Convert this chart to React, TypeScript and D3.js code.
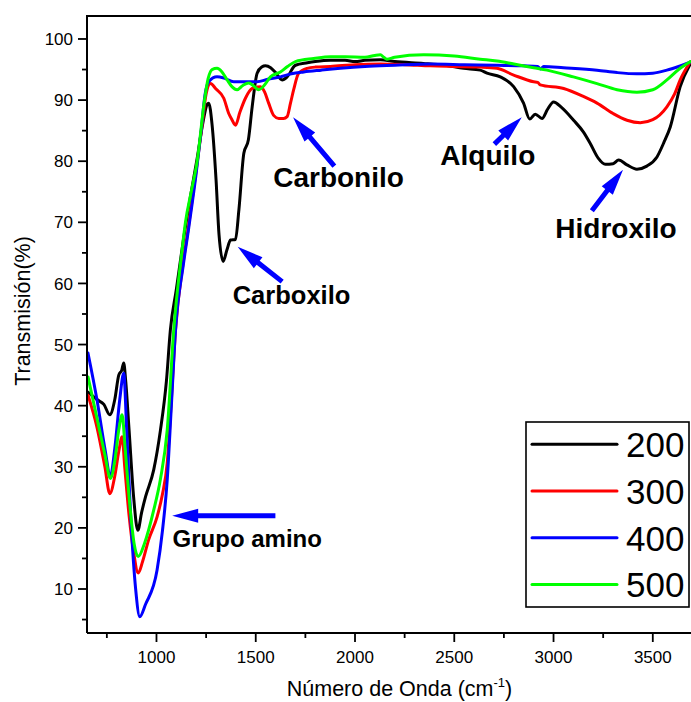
import React from 'react';
import * as d3 from 'd3';

const WIDTH = 691;
const HEIGHT = 702;

// FTIR transmission spectra, one per treatment temperature
const seriesLabels = ['200', '300', '400', '500'];
const seriesColors = ['#000000', '#ff0000', '#0000ff', '#00ff00'];

// [wavenumber (cm-1), transmission (%)]
const spectrum200: [number, number][] = [
  [655, 42.2], [700, 41.0], [735, 40.2], [765, 38.5], [790, 41.0], [810, 45.0], [825, 45.8],
  [835, 47.0], [845, 44.0], [862, 36.0], [885, 25.0], [906, 19.6], [925, 22.5], [945, 25.1],
  [986, 29.5], [1020, 36.0], [1050, 44.0], [1070, 52.4], [1100, 59.0], [1135, 67.0], [1170, 74.0],
  [1205, 80.5], [1235, 86.5], [1255, 89.3], [1263, 89.5], [1280, 86.0], [1300, 77.0], [1315, 68.0],
  [1336, 63.6], [1355, 65.5], [1373, 67.1], [1398, 67.2], [1415, 72.0], [1440, 81.3], [1463, 83.5],
  [1482, 88.9], [1507, 94.4], [1530, 95.4], [1549, 95.6], [1575, 95.3], [1600, 94.5], [1633, 93.3],
  [1658, 93.8], [1700, 95.7], [1760, 96.1], [1800, 96.3], [1876, 96.5], [1950, 96.5], [2000, 96.3],
  [2050, 96.5], [2128, 96.6], [2200, 96.3], [2344, 96.0], [2450, 95.7], [2547, 95.2], [2631, 94.9],
  [2665, 94.4], [2732, 93.8], [2799, 92.2], [2849, 89.5], [2880, 86.9], [2908, 87.7], [2942, 87.0],
  [2970, 88.5], [3000, 89.7], [3040, 88.8], [3101, 86.7], [3150, 84.8], [3185, 82.9], [3225, 80.5],
  [3261, 79.5], [3300, 79.6], [3328, 80.2], [3370, 79.4], [3420, 78.7], [3470, 79.2], [3521, 80.7],
  [3555, 83.0], [3588, 85.6], [3638, 92.2], [3690, 96.0],
];

const spectrum300: [number, number][] = [
  [655, 41.7], [700, 36.5], [740, 30.0], [765, 25.6], [790, 28.5], [810, 32.5], [827, 34.9],
  [840, 30.0], [862, 22.0], [885, 16.0], [908, 12.6], [930, 14.5], [960, 18.0], [1003, 21.8],
  [1030, 25.5], [1054, 30.6], [1075, 41.0], [1096, 52.4], [1135, 63.5], [1160, 69.0], [1200, 78.5],
  [1230, 86.0], [1250, 91.0], [1272, 92.7], [1300, 91.8], [1339, 90.3], [1364, 87.8], [1380, 86.8],
  [1398, 85.9], [1420, 88.0], [1448, 90.3], [1482, 91.9], [1524, 92.2], [1545, 91.3], [1565, 89.5],
  [1590, 87.5], [1616, 87.0], [1640, 87.0], [1658, 87.3], [1675, 89.5], [1691, 91.7], [1716, 94.4],
  [1759, 95.2], [1800, 95.4], [1876, 95.5], [2000, 95.8], [2128, 95.9], [2250, 95.8], [2380, 95.6],
  [2500, 95.5], [2631, 95.4], [2715, 95.2], [2799, 94.1], [2900, 93.0], [2920, 92.9], [2933, 92.5],
  [3051, 91.9], [3150, 90.6], [3219, 89.5], [3300, 87.8], [3370, 86.7], [3437, 86.3], [3500, 86.8],
  [3571, 88.9], [3610, 91.0], [3638, 93.3], [3690, 96.3],
];

const spectrum400: [number, number][] = [
  [655, 48.6], [700, 41.0], [740, 33.0], [768, 28.5], [790, 33.0], [815, 41.0], [835, 45.3],
  [850, 36.0], [870, 22.0], [895, 10.0], [916, 5.45], [945, 7.5], [1003, 13.1], [1030, 19.5],
  [1054, 27.8], [1075, 40.0], [1096, 52.4], [1135, 63.0], [1162, 69.0], [1200, 78.0], [1225, 85.0],
  [1245, 91.0], [1263, 93.0], [1305, 93.8], [1340, 93.6], [1389, 93.0], [1450, 93.0], [1507, 93.0],
  [1560, 93.4], [1624, 93.8], [1680, 94.3], [1742, 94.6], [1830, 94.9], [1926, 95.2], [2050, 95.5],
  [2200, 95.7], [2380, 95.9], [2550, 95.8], [2715, 95.7], [2850, 95.6], [2920, 95.5], [2935, 95.1],
  [2950, 95.5], [3050, 95.3], [3219, 94.9], [3320, 94.5], [3420, 94.3], [3500, 94.4], [3571, 94.9],
  [3630, 95.5], [3690, 96.2],
];

const spectrum500: [number, number][] = [
  [655, 44.7], [700, 38.0], [740, 32.0], [768, 28.1], [790, 31.0], [810, 36.0], [827, 38.5],
  [842, 33.0], [865, 24.0], [887, 17.5], [908, 15.3], [940, 17.5], [986, 22.9], [1020, 28.0],
  [1054, 36.0], [1087, 52.4], [1129, 65.5], [1146, 70.0], [1175, 75.0], [1205, 80.0], [1242, 90.0],
  [1260, 93.5], [1280, 95.0], [1305, 95.2], [1330, 94.6], [1356, 93.3], [1380, 92.2], [1406, 91.7],
  [1435, 92.4], [1465, 92.8], [1490, 92.3], [1515, 91.7], [1545, 92.5], [1574, 93.8], [1624, 94.6],
  [1660, 95.5], [1700, 96.3], [1792, 96.8], [1876, 97.1], [1950, 97.1], [2050, 97.0], [2100, 97.3],
  [2128, 97.4], [2145, 97.0], [2161, 96.7], [2200, 97.0], [2346, 97.4], [2500, 97.2], [2631, 96.7],
  [2715, 96.4], [2800, 95.9], [2900, 95.3], [2967, 94.9], [3100, 93.8], [3219, 92.7], [3320, 91.7],
  [3420, 91.3], [3500, 91.7], [3571, 93.3], [3630, 95.0], [3690, 96.3],
];

const spectra = [spectrum200, spectrum300, spectrum400, spectrum500];

const xTicks = [1000, 1500, 2000, 2500, 3000, 3500];
const xMinorTicks = [750, 1250, 1750, 2250, 2750, 3250];
const yTicks = [10, 20, 30, 40, 50, 60, 70, 80, 90, 100];
const yMinorTicks = [5, 15, 25, 35, 45, 55, 65, 75, 85, 95];

const annotationLabels = ['Grupo amino', 'Carboxilo', 'Carbonilo', 'Alquilo', 'Hidroxilo'];

// Annotation placement in data units: arrow tail, arrow tip, text start; font size in px
const annotationLayout = [
  { tail: [1599, 22.0], tip: [1079, 22.0], text: [1081, 16.9], size: 24 },
  { tail: [1633, 60.3], tip: [1409, 66.0], text: [1384, 56.7], size: 25.5 },
  { tail: [1896, 79.2], tip: [1688, 87.2], text: [1588, 75.7], size: 28 },
  { tail: [2702, 82.8], tip: [2840, 87.2], text: [2430, 79.3], size: 28 },
  { tail: [3193, 71.9], tip: [3350, 78.6], text: [3009, 67.5], size: 28 },
];

const FONT = '"Liberation Sans", Arial, Helvetica, sans-serif';

const plot = { left: 87, right: 692.5, top: 16, bottom: 633 };

function arrowPath(x1: number, y1: number, x2: number, y2: number) {
  const shaft = 5;
  const headLen = 26;
  const headW = 14;
  const dx = x2 - x1;
  const dy = y2 - y1;
  const len = Math.hypot(dx, dy);
  const ux = dx / len;
  const uy = dy / len;
  const nx = -uy;
  const ny = ux;
  const bx = x2 - ux * headLen;
  const by = y2 - uy * headLen;
  const pts = [
    [x1 + nx * shaft / 2, y1 + ny * shaft / 2],
    [bx + nx * shaft / 2, by + ny * shaft / 2],
    [bx + nx * headW / 2, by + ny * headW / 2],
    [x2, y2],
    [bx - nx * headW / 2, by - ny * headW / 2],
    [bx - nx * shaft / 2, by - ny * shaft / 2],
    [x1 - nx * shaft / 2, y1 - ny * shaft / 2],
  ];
  return 'M' + pts.map((p) => p[0].toFixed(2) + ',' + p[1].toFixed(2)).join('L') + 'Z';
}

export default function App() {
  const x = d3.scaleLinear().domain([650, 3700]).range([plot.left, plot.right]);
  const y = d3.scaleLinear().domain([2.8, 103.76]).range([plot.bottom, plot.top]);

  const line = d3
    .line<[number, number]>()
    .x((d) => x(d[0]))
    .y((d) => y(d[1]))
    .curve(d3.curveMonotoneX);

  const legend = { x: 526, y: 422, w: 163, h: 185, rowStart: 444.3, rowGap: 46.7 };

  return (
    <svg
      width={WIDTH}
      height={HEIGHT}
      viewBox={`0 0 ${WIDTH} ${HEIGHT}`}
      style={{ position: 'absolute', left: 0, top: 0, background: '#fff' }}
      fontFamily={FONT}
    >
      <rect x={0} y={0} width={WIDTH} height={HEIGHT} fill="#fff" />
      <defs>
        <clipPath id="plot-clip">
          <rect x={plot.left} y={plot.top} width={plot.right - plot.left} height={plot.bottom - plot.top} />
        </clipPath>
      </defs>

      {/* spectra */}
      <g clipPath="url(#plot-clip)">
        {spectra.map((s, i) => (
          <path
            key={seriesLabels[i]}
            d={line(s) || ''}
            fill="none"
            stroke={seriesColors[i]}
            strokeWidth={3}
            strokeLinejoin="round"
            strokeLinecap="round"
          />
        ))}
      </g>

      {/* frame */}
      <path
        d={`M${plot.left},${plot.bottom}V${plot.top}H${plot.right}`}
        fill="none"
        stroke="#000"
        strokeWidth={2}
      />
      <line x1={plot.left} x2={plot.right} y1={plot.bottom} y2={plot.bottom} stroke="#000" strokeWidth={2} />

      {/* x axis ticks */}
      {xTicks.map((t) => (
        <g key={'xt' + t}>
          <line x1={x(t)} x2={x(t)} y1={plot.bottom} y2={plot.bottom + 9} stroke="#000" strokeWidth={1.8} />
          <text x={x(t)} y={663} textAnchor="middle" fontSize={17} fill="#000">
            {t}
          </text>
        </g>
      ))}
      {xMinorTicks.map((t) => (
        <line key={'xm' + t} x1={x(t)} x2={x(t)} y1={plot.bottom} y2={plot.bottom + 5} stroke="#000" strokeWidth={1.8} />
      ))}

      {/* y axis ticks */}
      {yTicks.map((t) => (
        <g key={'yt' + t}>
          <line x1={plot.left - 9} x2={plot.left} y1={y(t)} y2={y(t)} stroke="#000" strokeWidth={1.8} />
          <text x={73} y={y(t)} dy="0.36em" textAnchor="end" fontSize={17} fill="#000">
            {t}
          </text>
        </g>
      ))}
      {yMinorTicks.map((t) => (
        <line key={'ym' + t} x1={plot.left - 5} x2={plot.left} y1={y(t)} y2={y(t)} stroke="#000" strokeWidth={1.8} />
      ))}

      {/* axis titles */}
      <text x={399.5} y={696} textAnchor="middle" fontSize={21.5} fill="#000">
        <tspan>Número de Onda (cm</tspan>
        <tspan fontSize={13} dy={-9}>-1</tspan>
        <tspan fontSize={21.5} dy={9}>)</tspan>
      </text>
      <text
        transform={`translate(29.5, 311) rotate(-90)`}
        textAnchor="middle"
        fontSize={21.5}
        fill="#000"
      >
        Transmisión(%)
      </text>

      {/* annotations */}
      {annotationLabels.map((label, i) => {
        const a = annotationLayout[i];
        return (
          <g key={label}>
            <path d={arrowPath(x(a.tail[0]), y(a.tail[1]), x(a.tip[0]), y(a.tip[1]))} fill="#0000ff" />
            <text x={x(a.text[0])} y={y(a.text[1])} fontSize={a.size} fontWeight="bold" fill="#000">
              {label}
            </text>
          </g>
        );
      })}

      {/* legend */}
      <g>
        <rect x={legend.x} y={legend.y} width={legend.w} height={legend.h} fill="#fff" stroke="#000" strokeWidth={1.6} />
        {seriesLabels.map((label, i) => {
          const ry = legend.rowStart + i * legend.rowGap;
          return (
            <g key={'lg' + label}>
              <line x1={532} x2={617} y1={ry} y2={ry} stroke={seriesColors[i]} strokeWidth={3} strokeLinecap="round" />
              <text x={626} y={ry + 13} fontSize={35} fill="#000">
                {label}
              </text>
            </g>
          );
        })}
      </g>
    </svg>
  );
}
